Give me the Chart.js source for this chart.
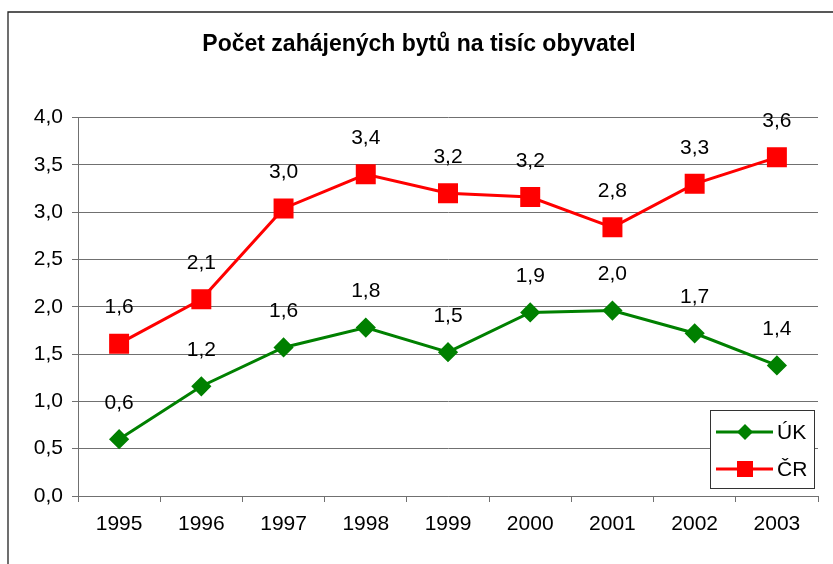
<!DOCTYPE html>
<html>
<head>
<meta charset="utf-8">
<script src="https://cdn.jsdelivr.net/npm/chart.js@4"></script>
<style>
  html, body { margin: 0; padding: 0; background: #fff; }
  #wrap { width: 833px; height: 564px; }
</style>
</head>
<body>
<div id="wrap"><canvas id="chart-1"></canvas></div>
<script>
const years = ['1995', '1996', '1997', '1998', '1999', '2000', '2001', '2002', '2003'];
const ukValues = [0.60, 1.16, 1.57, 1.78, 1.52, 1.94, 1.96, 1.72, 1.38];
const crValues = [1.61, 2.08, 3.04, 3.40, 3.20, 3.16, 2.84, 3.30, 3.58];
const yTicks = [0, 0.5, 1, 1.5, 2, 2.5, 3, 3.5, 4];

const FONT = '"Liberation Sans", Arial, sans-serif';
const fmt = (v) => v.toFixed(1).replace('.', ',');

// frame, value labels and the legend box
const extras = {
  id: 'extras',
  afterDraw(chart) {
    const ctx = chart.ctx;
    ctx.save();
    ctx.strokeStyle = '#222';
    ctx.lineWidth = 1.3;
    ctx.beginPath();
    ctx.moveTo(8, 564);
    ctx.lineTo(8, 12);
    ctx.lineTo(833, 12);
    ctx.stroke();

    ctx.fillStyle = '#000';
    ctx.font = '21px ' + FONT;
    ctx.textAlign = 'center';
    ctx.textBaseline = 'middle';
    chart.data.datasets.forEach((ds, i) => {
      chart.getDatasetMeta(i).data.forEach((pt, j) => {
        ctx.fillText(fmt(ds.data[j]), pt.x, pt.y - 36);
      });
    });

    const bx = 710, by = 410, bw = 104, bh = 78;
    ctx.fillStyle = '#fff';
    ctx.fillRect(bx, by, bw, bh);
    ctx.strokeStyle = '#333';
    ctx.lineWidth = 1;
    ctx.strokeRect(bx + 0.5, by + 0.5, bw, bh);
    chart.data.datasets.forEach((ds, i) => {
      const y = by + 22 + i * 37;
      ctx.strokeStyle = ds.borderColor;
      ctx.lineWidth = 3;
      ctx.beginPath();
      ctx.moveTo(bx + 6, y);
      ctx.lineTo(bx + 63, y);
      ctx.stroke();
      ctx.fillStyle = ds.backgroundColor;
      ctx.beginPath();
      if (ds.pointStyle === 'rectRot') {
        ctx.moveTo(bx + 35, y - 8);
        ctx.lineTo(bx + 43, y);
        ctx.lineTo(bx + 35, y + 8);
        ctx.lineTo(bx + 27, y);
      } else {
        ctx.rect(bx + 27, y - 8, 16, 16);
      }
      ctx.fill();
      ctx.fillStyle = '#000';
      ctx.textAlign = 'left';
      ctx.font = '21px ' + FONT;
      ctx.fillText(ds.label, bx + 67, y + 1);
    });
    ctx.restore();
  },
};

const data = {
  labels: years,
  datasets: [
    {
      label: 'ÚK',
      data: ukValues,
      borderColor: '#008000',
      backgroundColor: '#008000',
      borderWidth: 3,
      pointStyle: 'rectRot',
      pointRadius: 8,
      pointHoverRadius: 8,
      tension: 0,
    },
    {
      label: 'ČR',
      data: crValues,
      borderColor: '#ff0000',
      backgroundColor: '#ff0000',
      borderWidth: 3,
      pointStyle: 'rect',
      pointRadius: 12,
      pointHoverRadius: 12,
      tension: 0,
    },
  ],
};

const config = {
  type: 'line',
  data: data,
  plugins: [extras],
  options: {
    responsive: false,
    animation: false,
    layout: { padding: { left: 8, right: 3, bottom: 16, top: 0 } },
    plugins: {
      legend: { display: false },
      tooltip: { enabled: false },
      title: {
        display: true,
        text: 'Počet zahájených bytů na tisíc obyvatel',
        color: '#000',
        font: { family: FONT, size: 23, weight: 'bold' },
        padding: { top: 31, bottom: 59 },
      },
    },
    scales: {
      x: {
        offset: true,
        grid: { offset: true, drawOnChartArea: false, color: '#707070', tickLength: 6 },
        border: { color: '#707070', width: 1 },
        ticks: { color: '#000', font: { family: FONT, size: 21 }, padding: 10, maxRotation: 0 },
        afterFit: (s) => { s.height = 52; },
      },
      y: {
        min: 0,
        max: 4,
        afterBuildTicks: (s) => { s.ticks = yTicks.map((v) => ({ value: v })); },
        grid: { color: '#707070', tickLength: 6 },
        border: { color: '#707070', width: 1 },
        ticks: { color: '#000', font: { family: FONT, size: 21 }, padding: 9, callback: (v) => fmt(v) },
        afterFit: (s) => { s.width = 70; },
      },
    },
  },
};

const canvas = document.getElementById('chart-1');
canvas.width = 833;
canvas.height = 564;
const chart1 = new Chart(canvas, config);
</script>
</body>
</html>
